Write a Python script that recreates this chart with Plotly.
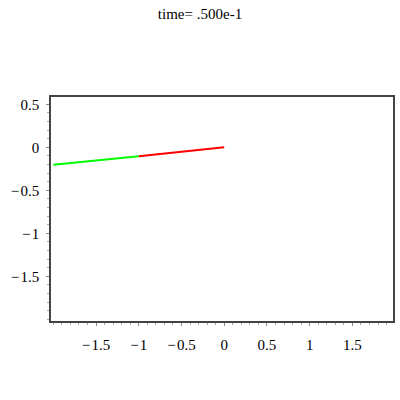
import plotly.graph_objects as go

# segment endpoints (pendulum arms)
red_x = [0.0, -1.0]
red_y = [0.0, -0.105]
green_x = [-1.0, -2.0]
green_y = [-0.105, -0.202]
x_ticks = [-1.5, -1, -0.5, 0, 0.5, 1, 1.5]
y_ticks = [0.5, 0, -0.5, -1, -1.5]
title_text = "time= .500e-1"

font = dict(family="Liberation Serif", size=15, color="black")

fig = go.Figure()
fig.add_trace(go.Scatter(x=red_x, y=red_y, mode="lines",
                         line=dict(color="#FF0000", width=2), showlegend=False))
fig.add_trace(go.Scatter(x=green_x, y=green_y, mode="lines",
                         line=dict(color="#00FF00", width=2), showlegend=False))

def fmt(v):
    s = ("%g" % v)
    return s.replace("-", "\u2212\u200a")

axis_common = dict(showgrid=False, zeroline=False, showline=True, mirror=True,
                   linecolor="#444", linewidth=1.5, ticks="outside", ticklen=3,
                   tickcolor="#888", tickwidth=1, tickfont=font, automargin=False,
                   minor=dict(ticks="outside", dtick=0.1, ticklen=2, tickcolor="#aaa", tickwidth=1))

fig.update_layout(
    width=400, height=400,
    margin=dict(l=51, r=7, t=97, b=79, autoexpand=False),
    paper_bgcolor="white", plot_bgcolor="white",
    font=font,
    title=dict(text=title_text, x=0.5, xref="container", y=0.965, yref="container",
               yanchor="middle", font=font),
    xaxis=dict(range=[-2.027, 1.975], tickvals=x_ticks,
               ticktext=[fmt(v) for v in x_ticks], ticklabelstandoff=6, **axis_common),
    yaxis=dict(range=[-2.02, 0.585], tickvals=y_ticks,
               ticktext=[fmt(v) for v in y_ticks], ticklabelstandoff=4, **axis_common),
)

fig.write_html("out.html", config={"displayModeBar": False},
               post_script="document.body.style.margin='0';")
